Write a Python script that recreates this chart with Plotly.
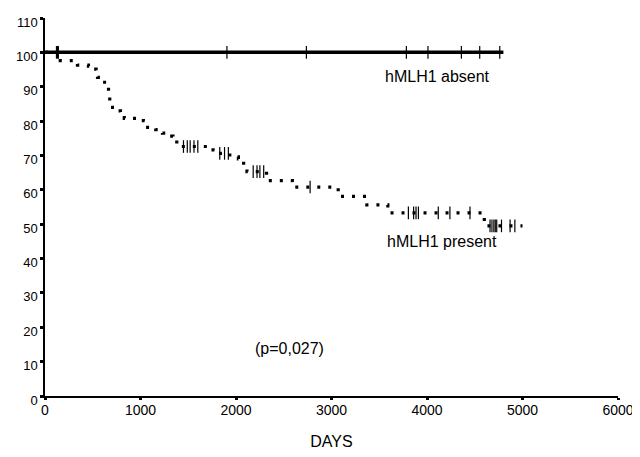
import numpy as np
import plotly.graph_objects as go

# hMLH1 present: Kaplan-Meier steps (day, survival % after the step)
present_days = [0, 160, 300, 340, 455, 490, 535, 550, 597, 640, 665, 678, 690,
                754, 790, 830, 1030, 1055, 1160, 1230, 1280, 1340, 1380, 1415,
                1760, 1800, 1935, 2025, 2080, 2115, 2320, 2590, 3070, 3370,
                3590, 4600, 5000]
present_surv = [100, 97.6, 97.0, 96.3, 96.0, 95.1, 94.5, 92.7, 91.3, 89.8, 87.9,
                85.9, 84.0, 83.0, 82.1, 80.8, 80.1, 78.2, 77.5, 76.5, 75.6, 74.5,
                73.4, 72.6, 71.6, 70.6, 69.6, 69.0, 67.0, 65.3, 62.7, 60.8, 58.1,
                55.6, 53.3, 49.5, 49.5]
present_censored = [120, 140, 1450, 1490, 1520, 1560, 1600, 1830, 1880, 1920,
                    2180, 2220, 2250, 2290, 2776, 3805, 3860, 3885, 3910, 4118,
                    4240, 4450, 4660, 4680, 4700, 4715, 4730, 4780, 4870, 4920]

# hMLH1 absent: no events, censored observations only
absent_days = [0, 4800]
absent_surv = [100, 100]
absent_censored = [130, 1905, 2737, 3784, 4010, 4360, 4552, 4762]

y_ticks = [0, 10, 20, 30, 40, 50, 60, 70, 80, 90, 100, 110]
x_ticks = [0, 1000, 2000, 3000, 4000, 5000, 6000]

FONT = "Arial, Liberation Sans, sans-serif"


def km_value(days, surv, t):
    idx = np.searchsorted(days, t, side="right") - 1
    return [surv[i] for i in idx]


censor_marker = dict(symbol="line-ns-open", size=9, color="black",
                     line=dict(color="black", width=1.2))

fig = go.Figure()

fig.add_trace(go.Scatter(
    x=absent_days, y=absent_surv, mode="lines",
    line=dict(color="black", width=3.5),
))
fig.add_trace(go.Scatter(
    x=absent_censored, y=km_value(absent_days, absent_surv, absent_censored),
    mode="markers", marker=censor_marker,
))

fig.add_trace(go.Scatter(
    x=present_days, y=present_surv, mode="lines",
    line=dict(color="black", width=3.2, shape="hv", dash="3px,8px"),
))
fig.add_trace(go.Scatter(
    x=present_censored, y=km_value(present_days, present_surv, present_censored),
    mode="markers", marker=censor_marker,
))

fig.add_annotation(x=3540, y=93.1, text="hMLH1 absent", showarrow=False,
                   xanchor="left", font=dict(size=16, color="black", family=FONT))
fig.add_annotation(x=3560, y=45.1, text="hMLH1 present", showarrow=False,
                   xanchor="left", font=dict(size=16, color="black", family=FONT))
fig.add_annotation(x=2180, y=13.8, text="(p=0,027)", showarrow=False,
                   xanchor="left", font=dict(size=16, color="black", family=FONT))

# the page body has an 8px margin, so the figure is sized to fit the window
fig.update_layout(
    width=632, height=449,
    margin=dict(l=37, r=22, t=10, b=61),
    paper_bgcolor="white", plot_bgcolor="white",
    showlegend=False,
    font=dict(family=FONT, size=13, color="black"),
    xaxis=dict(
        range=[0, 6000], tickvals=x_ticks, showgrid=False, zeroline=False,
        showline=True, linecolor="black", linewidth=1.5, automargin=False,
        ticks="outside", ticklen=2, tickwidth=3, tickcolor="black",
        tickfont=dict(size=14), ticklabelstandoff=-2,
        title=dict(text="DAYS", standoff=19, font=dict(size=16)),
    ),
    yaxis=dict(
        range=[0, 110], tickvals=y_ticks, showgrid=False, zeroline=False,
        showline=True, linecolor="black", linewidth=1.5, automargin=False,
        ticks="outside", ticklen=3, tickwidth=3, tickcolor="black",
        tickfont=dict(size=13),
        ticklabelshift=4, ticklabelstandoff=0,
    ),
)

fig.write_html("out.html")
